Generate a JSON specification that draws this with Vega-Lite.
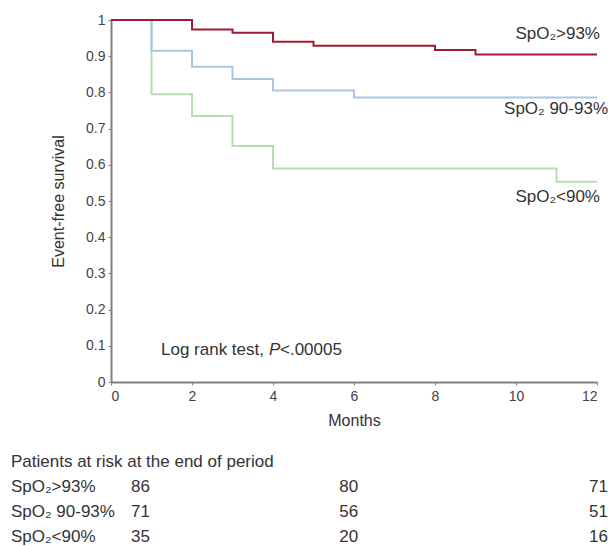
{
  "$schema": "https://vega.github.io/schema/vega-lite/v6.json",
  "background": "white",
  "padding": {"left": 10, "top": 13, "right": 0, "bottom": 0},
  "bounds": "flush",
  "spacing": 67,
  "config": {
    "font": "Liberation Sans",
    "view": {"stroke": null},
    "axis": {
      "domainColor": "#808080",
      "domainWidth": 2,
      "tickColor": "#808080",
      "tickSize": 3,
      "labelColor": "#444444",
      "labelFontSize": 14,
      "labelFont": "Liberation Sans",
      "labelOverlap": false,
      "titleFont": "Liberation Sans",
      "titleFontSize": 16,
      "titleFontWeight": "normal",
      "titleColor": "#333333",
      "grid": false
    },
    "text": {"font": "Liberation Sans", "fontSize": 17, "color": "#333333"}
  },
  "datasets": {
    "surv": [
      {"group": "SpO₂<90%", "month": 0, "surv": 1},
      {"group": "SpO₂<90%", "month": 1, "surv": 0.795},
      {"group": "SpO₂<90%", "month": 2, "surv": 0.735},
      {"group": "SpO₂<90%", "month": 3, "surv": 0.652},
      {"group": "SpO₂<90%", "month": 4, "surv": 0.59},
      {"group": "SpO₂<90%", "month": 11, "surv": 0.553},
      {"group": "SpO₂<90%", "month": 12, "surv": 0.553},
      {"group": "SpO₂ 90-93%", "month": 0, "surv": 1},
      {"group": "SpO₂ 90-93%", "month": 1, "surv": 0.915},
      {"group": "SpO₂ 90-93%", "month": 2, "surv": 0.871},
      {"group": "SpO₂ 90-93%", "month": 3, "surv": 0.837},
      {"group": "SpO₂ 90-93%", "month": 4, "surv": 0.805},
      {"group": "SpO₂ 90-93%", "month": 6, "surv": 0.786},
      {"group": "SpO₂ 90-93%", "month": 12, "surv": 0.786},
      {"group": "SpO₂>93%", "month": 0, "surv": 1},
      {"group": "SpO₂>93%", "month": 2, "surv": 0.974},
      {"group": "SpO₂>93%", "month": 3, "surv": 0.965},
      {"group": "SpO₂>93%", "month": 4, "surv": 0.94},
      {"group": "SpO₂>93%", "month": 5, "surv": 0.929},
      {"group": "SpO₂>93%", "month": 8, "surv": 0.917},
      {"group": "SpO₂>93%", "month": 9, "surv": 0.905},
      {"group": "SpO₂>93%", "month": 12, "surv": 0.905}
    ],
    "risk": [
      {"group": "SpO₂>93%", "month": 1, "n": 86},
      {"group": "SpO₂>93%", "month": 6, "n": 80},
      {"group": "SpO₂>93%", "month": 12, "n": 71},
      {"group": "SpO₂ 90-93%", "month": 1, "n": 71},
      {"group": "SpO₂ 90-93%", "month": 6, "n": 56},
      {"group": "SpO₂ 90-93%", "month": 12, "n": 51},
      {"group": "SpO₂<90%", "month": 1, "n": 35},
      {"group": "SpO₂<90%", "month": 6, "n": 20},
      {"group": "SpO₂<90%", "month": 12, "n": 16}
    ]
  },
  "vconcat": [
    {
      "width": 486,
      "height": 362,
      "data": {"name": "surv"},
      "encoding": {
        "x": {
          "field": "month", "type": "quantitative",
          "scale": {"domain": [0, 12], "nice": false},
          "axis": {"values": [0, 2, 4, 6, 8, 10, 12], "title": "Months", "labelPadding": 4, "titlePadding": 9}
        },
        "y": {
          "field": "surv", "type": "quantitative",
          "scale": {"domain": [0, 1], "nice": false},
          "axis": {"values": [0, 0.1, 0.2, 0.3, 0.4, 0.5, 0.6, 0.7, 0.8, 0.9, 1], "tickCount": 11, "labelExpr": "datum.value == 0 ? '0' : datum.value == 1 ? '1' : format(datum.value, '.1f')", "title": "Event-free survival", "titlePadding": 19, "labelPadding": 3, "labelOverlap": false}
        }
      },
      "layer": [
        {
          "mark": {"type": "line", "interpolate": "step-after"},
          "encoding": {
            "color": {
              "field": "group", "type": "nominal",
              "scale": {"domain": ["SpO₂<90%", "SpO₂ 90-93%", "SpO₂>93%"], "range": ["#b9ddb2", "#a9c6e4", "#9e1c33"]},
              "legend": null
            },
            "strokeWidth": {
              "field": "group", "type": "nominal",
              "scale": {"domain": ["SpO₂<90%", "SpO₂ 90-93%", "SpO₂>93%"], "range": [2, 2, 3]},
              "legend": null
            }
          }
        },
        {
          "transform": [{"filter": "datum.month === 12 && datum.group === 'SpO₂>93%'"}],
          "mark": {"type": "text", "align": "right", "baseline": "middle", "dx": 3, "dy": -20},
          "encoding": {"text": {"field": "group"}}
        },
        {
          "transform": [{"filter": "datum.month === 12 && datum.group === 'SpO₂ 90-93%'"}],
          "mark": {"type": "text", "align": "right", "baseline": "middle", "dx": 11, "dy": 12},
          "encoding": {"text": {"field": "group"}}
        },
        {
          "transform": [{"filter": "datum.month === 12 && datum.group === 'SpO₂<90%'"}],
          "mark": {"type": "text", "align": "right", "baseline": "middle", "dx": 3, "dy": 15},
          "encoding": {"text": {"field": "group"}}
        },
        {
          "transform": [{"filter": "datum.month === 4 && datum.group === 'SpO₂>93%'"}],
          "mark": {"type": "text", "align": "right", "baseline": "middle", "dx": -9, "dy": 308, "text": "Log rank test,"},
          "encoding": {}
        },
        {
          "transform": [{"filter": "datum.month === 4 && datum.group === 'SpO₂>93%'"}],
          "mark": {"type": "text", "align": "left", "baseline": "middle", "dx": -4, "dy": 308, "fontStyle": "italic", "text": "P"},
          "encoding": {}
        },
        {
          "transform": [{"filter": "datum.month === 4 && datum.group === 'SpO₂>93%'"}],
          "mark": {"type": "text", "align": "left", "baseline": "middle", "dx": 7, "dy": 308, "text": "<.00005"},
          "encoding": {}
        }
      ]
    },
    {
      "width": 486,
      "height": 100,
      "layer": [
        {
          "data": {"values": [{}]},
          "mark": {"type": "text", "align": "left", "baseline": "middle", "text": "Patients at risk at the end of period"},
          "encoding": {
            "x": {"datum": -1.882, "type": "quantitative", "scale": {"domain": [0.5197, 12.19], "nice": false, "zero": false}, "axis": null},
            "y": {"datum": "header", "type": "nominal", "scale": {"type": "point", "domain": ["header", "SpO₂>93%", "SpO₂ 90-93%", "SpO₂<90%"], "padding": 0.5}, "axis": null}
          }
        },
        {
          "data": {"name": "risk"},
          "transform": [{"filter": "datum.month === 1"}],
          "mark": {"type": "text", "align": "left", "baseline": "middle"},
          "encoding": {
            "x": {"datum": -1.882, "type": "quantitative", "scale": {"domain": [0.5197, 12.19], "nice": false, "zero": false}, "axis": null},
            "y": {"field": "group", "type": "nominal", "scale": {"type": "point", "domain": ["header", "SpO₂>93%", "SpO₂ 90-93%", "SpO₂<90%"], "padding": 0.5}, "axis": null},
            "text": {"field": "group"}
          }
        },
        {
          "data": {"name": "risk"},
          "mark": {"type": "text", "align": "left", "baseline": "middle"},
          "encoding": {
            "x": {"field": "month", "type": "quantitative", "scale": {"domain": [0.5197, 12.19], "nice": false, "zero": false}, "axis": null},
            "y": {"field": "group", "type": "nominal", "scale": {"type": "point", "domain": ["header", "SpO₂>93%", "SpO₂ 90-93%", "SpO₂<90%"], "padding": 0.5}, "axis": null},
            "text": {"field": "n", "type": "quantitative"}
          }
        }
      ]
    }
  ]
}
